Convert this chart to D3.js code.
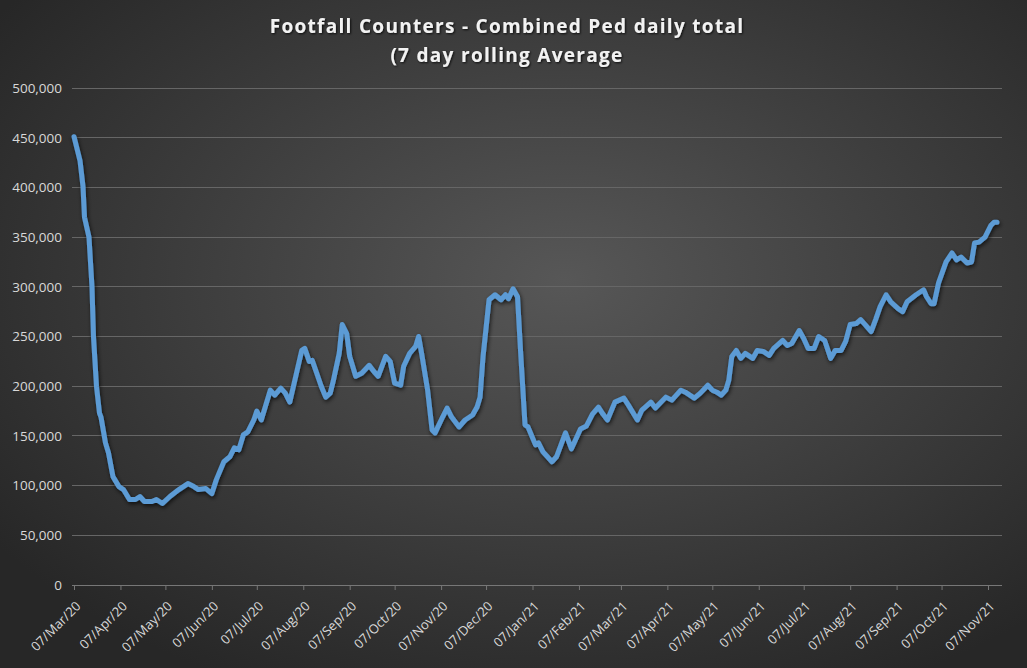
<!DOCTYPE html>
<html>
<head>
<meta charset="utf-8">
<script src="https://cdn.jsdelivr.net/npm/d3@7.9.0/dist/d3.min.js"></script>
<style>
  html, body { margin: 0; padding: 0; background: #2a2a2a; }
  svg { display: block; }
</style>
</head>
<body>
<svg id="chart" width="1027" height="668"></svg>
<script>
// footfall chart - combined ped daily total, 7 day rolling average

// first reading of the series
const startDate = '07/Mar/20';

// days after the first reading
const dayOffsets = [
  0, 4, 6, 7, 10, 12, 13, 15, 17, 18, 21, 23, 26, 30, 33, 37, 41, 44, 47, 52,
  55, 59, 64, 70, 76, 80, 83, 88, 92, 95, 100, 104, 107, 110, 113, 116, 120, 122, 125, 131,
  134, 138, 141, 144, 148, 152, 154, 157, 159, 162, 165, 168, 171, 173, 177, 179, 182, 184, 188, 192,
  197, 200, 203, 208, 211, 214, 218, 220, 224, 228, 230, 232, 236, 239, 241, 246, 249, 252, 257, 261,
  266, 269, 271, 273, 277, 281, 285, 288, 290, 293, 296, 298, 301, 303, 308, 310, 313, 319, 322, 328,
  332, 338, 342, 346, 350, 353, 356, 361, 367, 370, 376, 379, 385, 388, 395, 399, 405, 408, 414, 418,
  423, 426, 429, 432, 435, 437, 439, 442, 445, 448, 453, 456, 460, 464, 467, 473, 476, 479, 484, 487,
  490, 494, 497, 501, 505, 508, 512, 515, 518, 522, 525, 528, 532, 535, 538, 542, 545, 550, 553, 556,
  562, 567, 569, 572, 574, 577, 582, 586, 589, 592, 596, 599, 601, 604, 608, 610, 612, 614, 616
];

// pedestrian counts (7 day rolling average), thousands
const pedAverage = [
  451, 427, 401, 370, 350, 300, 250, 200, 173, 169, 143, 133, 109, 99, 96, 86, 86, 89, 84, 84,
  86, 82, 89, 96, 102, 99, 96, 97, 92, 106, 124, 129, 138, 136, 151, 154, 166, 175, 166, 196,
  191, 198, 193, 184, 210, 236, 238, 225, 226, 213, 200, 189, 193, 205, 233, 262, 253, 230, 210, 213,
  221, 215, 210, 230, 225, 203, 201, 220, 233, 240, 250, 233, 196, 156, 153, 169, 178, 169, 159, 166,
  171, 179, 189, 230, 287, 292, 287, 292, 288, 298, 290, 236, 161, 159, 141, 143, 134, 124, 129, 153,
  137, 157, 160, 172, 179, 172, 166, 184, 188, 181, 166, 176, 184, 178, 189, 186, 196, 194, 188, 193,
  201, 196, 194, 191, 196, 206, 230, 236, 228, 233, 228, 236, 235, 231, 238, 246, 241, 243, 256, 248,
  238, 238, 250, 246, 228, 236, 236, 245, 262, 263, 267, 262, 255, 267, 280, 292, 285, 278, 275, 285,
  292, 297, 290, 283, 283, 304, 325, 334, 327, 330, 324, 325, 344, 345, 350, 356, 362, 365, 365
];

// x axis labels
const monthTicks = [
  '07/Mar/20', '07/Apr/20', '07/May/20', '07/Jun/20', '07/Jul/20', '07/Aug/20', '07/Sep/20',
  '07/Oct/20', '07/Nov/20', '07/Dec/20', '07/Jan/21', '07/Feb/21', '07/Mar/21', '07/Apr/21',
  '07/May/21', '07/Jun/21', '07/Jul/21', '07/Aug/21', '07/Sep/21', '07/Oct/21', '07/Nov/21'
];

// y axis ticks
const yTicks = [0, 50000, 100000, 150000, 200000, 250000, 300000, 350000, 400000, 450000, 500000];

const titleLines = ['Footfall Counters - Combined Ped daily total', '(7 day rolling Average'];

// ----------------------------------------------------------
const W = 1027, H = 668;
const plot = { left: 72, right: 1002, top: 88, bottom: 585 };

const parseDay = d3.timeParse('%d/%b/%y');
const fmtDay = d3.timeFormat('%d/%b/%y');
const t0 = parseDay(startDate);

const data = dayOffsets.map((d, i) => ({
  date: d3.timeDay.offset(t0, d),
  value: pedAverage[i] * 1000
}));

const svg = d3.select('#chart');
const defs = svg.append('defs');

// dark background, lighter towards the middle
const bg = defs.append('radialGradient')
  .attr('id', 'bg')
  .attr('cx', '55%').attr('cy', '42%').attr('r', '68%');
bg.append('stop').attr('offset', '0%').attr('stop-color', '#575757');
bg.append('stop').attr('offset', '100%').attr('stop-color', '#272727');

const shadow = defs.append('filter')
  .attr('id', 'shadow')
  .attr('x', '-10%').attr('y', '-10%').attr('width', '120%').attr('height', '120%');
shadow.append('feDropShadow')
  .attr('dx', 1).attr('dy', 2).attr('stdDeviation', 2)
  .attr('flood-color', '#000').attr('flood-opacity', 0.7);

const txtShadow = defs.append('filter').attr('id', 'txtshadow');
txtShadow.append('feDropShadow')
  .attr('dx', 1).attr('dy', 1).attr('stdDeviation', 1)
  .attr('flood-color', '#000').attr('flood-opacity', 0.8);

svg.append('rect').attr('width', W).attr('height', H).attr('fill', 'url(#bg)');

// scales
const x = d3.scaleTime()
  .domain([t0, data[data.length - 1].date])
  .range([74, 997]);

const y = d3.scaleLinear()
  .domain([0, 500000])
  .range([plot.bottom, plot.top]);

// gridlines
svg.append('g')
  .selectAll('line')
  .data(yTicks.filter(d => d > 0))
  .join('line')
  .attr('x1', plot.left).attr('x2', plot.right)
  .attr('y1', d => y(d)).attr('y2', d => y(d))
  .attr('stroke', '#666')
  .attr('stroke-width', 1)
  .attr('shape-rendering', 'crispEdges');

// y axis labels
const yAxis = svg.append('g')
  .attr('transform', `translate(${plot.left},0)`)
  .call(d3.axisLeft(y).tickValues(yTicks).tickFormat(d3.format(',')).tickSize(0).tickPadding(10));
yAxis.select('.domain').remove();
yAxis.selectAll('text')
  .attr('fill', '#d9d9d9')
  .style('font-family', 'Open Sans, Liberation Sans, sans-serif')
  .style('font-size', '13.5px');

// x axis
const tickDates = monthTicks.map(parseDay);
const xAxis = svg.append('g')
  .attr('transform', `translate(0,${plot.bottom})`)
  .call(d3.axisBottom(x).tickValues(tickDates).tickFormat(fmtDay).tickSize(5).tickSizeOuter(0));
xAxis.select('.domain')
  .attr('d', `M${plot.left},0.5H${plot.right}`)
  .attr('stroke', '#777');
xAxis.selectAll('.tick line').attr('stroke', '#777');
xAxis.selectAll('text')
  .attr('fill', '#d9d9d9')
  .style('font-family', 'Open Sans, Liberation Sans, sans-serif')
  .style('font-size', '13px')
  .attr('text-anchor', 'end')
  .attr('dy', null)
  .attr('y', 0)
  .attr('transform', 'translate(7,22) rotate(-45)');

// the series
const line = d3.line()
  .x(d => x(d.date))
  .y(d => y(d.value))
  .curve(d3.curveLinear);

svg.append('path')
  .datum(data)
  .attr('d', line)
  .attr('fill', 'none')
  .attr('stroke', '#5b9bd5')
  .attr('stroke-width', 5)
  .attr('stroke-linejoin', 'round')
  .attr('stroke-linecap', 'round')
  .attr('filter', 'url(#shadow)');

// title
svg.append('g')
  .selectAll('text')
  .data(titleLines)
  .join('text')
  .attr('x', 507)
  .attr('y', (d, i) => 33 + i * 29)
  .attr('text-anchor', 'middle')
  .attr('fill', '#f2f2f2')
  .attr('filter', 'url(#txtshadow)')
  .style('font-family', 'Open Sans, sans-serif')
  .style('font-weight', 'bold')
  .style('font-size', '19px')
  .style('letter-spacing', '1.3px')
  .text(d => d);
</script>
</body>
</html>
